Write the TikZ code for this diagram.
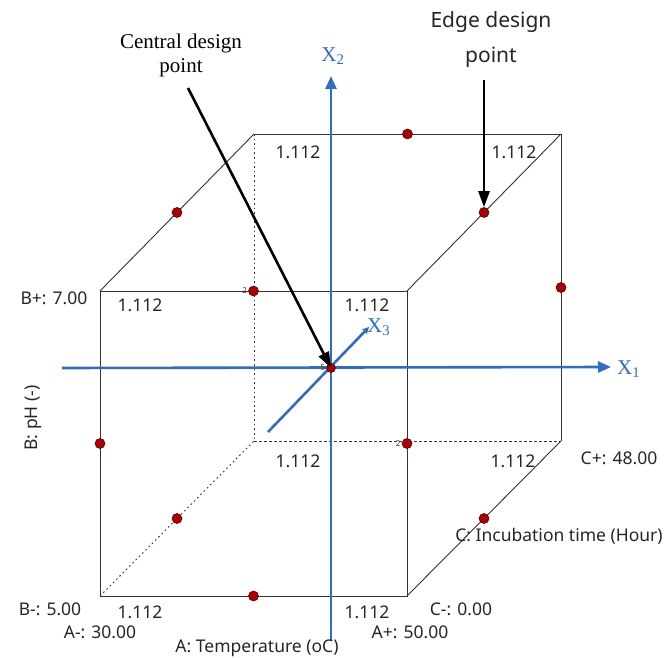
\documentclass[tikz,border=0pt]{standalone}
\usepackage{fontspec}
\setmainfont{Liberation Serif}
\newfontfamily\uisans{Noto Sans}
\usetikzlibrary{arrows.meta,calc}
\definecolor{axblue}{RGB}{48,108,198}
\definecolor{ptred}{RGB}{175,0,0}
\begin{document}
\begin{tikzpicture}[x=1pt,y=-1pt,
  cube/.style={draw=black!80, line width=0.9pt},
  hidA/.style={cube, dash pattern=on 1.6pt off 3pt},
  hidB/.style={cube, dash pattern=on 3pt off 2pt},
  pt/.style={circle, fill=ptred, draw=black!50!ptred, line width=0.6pt, inner sep=0pt, minimum size=10pt},
  lab/.style={font=\uisans\fontsize{17.5}{20}\selectfont, text=black!85, inner sep=0pt},
  tinylab/.style={font=\uisans\fontsize{8}{8}\selectfont, text=black!80, inner sep=0pt, anchor=east},
  axis/.style={draw=axblue, line width=2.6pt},
  axlab/.style={text=axblue, font=\fontsize{21}{21}\selectfont, inner sep=0pt},
  callout/.style={draw=black, line width=2.6pt, -{Triangle[length=16pt,width=11pt]}},
  note/.style={font=\fontsize{21}{24}\selectfont, align=center, inner sep=0pt},
  notesans/.style={font=\uisans\fontsize{21}{35}\selectfont, align=center, inner sep=0pt, text=black!85}]
\useasboundingbox (0,0) rectangle (670,658);
\fill[white] (0,0) rectangle (670,658);
% cube corners
\coordinate (FTL) at (100,291);
\coordinate (FTR) at (407,291);
\coordinate (FBL) at (100,596);
\coordinate (FBR) at (407,596);
\coordinate (BTL) at (254,134);
\coordinate (BTR) at (561,134);
\coordinate (BBL) at (254,441);
\coordinate (BBR) at (561,441);
% hidden edges
\draw[hidA] (BTL) -- (BBL);
\draw[hidA] (FBL) -- (BBL);
\draw[hidB] (BBL) -- (BBR);
% visible edges
\draw[cube] (FTL) -- (FTR) -- (FBR) -- (FBL) -- cycle;
\draw[cube] (BTL) -- (BTR) -- (BBR);
\draw[cube] (FTL) -- (BTL);
\draw[cube] (FTR) -- (BTR);
\draw[cube] (FBR) -- (BBR);
% corner labels
\node[lab] (v1) at (140,305) {1.112};
\node[lab] (v2) at (367,305) {1.112};
\node[lab] (v3) at (298,152) {1.112};
\node[lab] (v4) at (514,152) {1.112};
\node[lab] (v5) at (298,461) {1.112};
\node[lab] (v6) at (513,461) {1.112};
\node[lab] (v7) at (140,612) {1.112};
\node[lab] (v8) at (367,612) {1.112};
% axes
\coordinate (x1s) at (62,368);
\coordinate (x1e) at (611,367);
\coordinate (x2s) at (331,640);
\coordinate (x2e) at (331,76);
\coordinate (x3s) at (268,432);
\coordinate (x3e) at (369,327);
\draw[axis, -{Triangle[length=13pt,width=11pt]}] (x1s) -- (x1e);
\draw[axis, -{Triangle[length=13pt,width=11pt]}] (x2s) -- (x2e);
\draw[axis, -{Stealth[length=7pt,width=7pt]}] (x3s) -- (x3e);
\node[axlab, anchor=west] (X1) at (617,369) {X\textsubscript{1}};
\node[axlab] (X2) at (333,56) {X\textsubscript{2}};
\node[axlab, anchor=west] (X3) at (367,327) {X\textsubscript{3}};
% design points
\node[pt] (m1) at ($(FTL)!0.5!(FTR)$) {};
\node[pt] (m2) at ($(FBL)!0.5!(FBR)$) {};
\node[pt] (m3) at ($(FTL)!0.5!(FBL)$) {};
\node[pt] (m4) at ($(FTR)!0.5!(FBR)$) {};
\node[pt] (m5) at ($(BTL)!0.5!(BTR)$) {};
\node[pt] (m6) at ($(BTR)!0.5!(BBR)$) {};
\node[pt] (m7) at ($(FTL)!0.5!(BTL)$) {};
\node[pt] (m8) at ($(FTR)!0.5!(BTR)$) {};
\node[pt] (m9) at ($(FBL)!0.5!(BBL)$) {};
\node[pt] (m10) at ($(FBR)!0.5!(BBR)$) {};
\node[pt, minimum size=9pt] (ctr) at (331,368) {};
\node[tinylab] (n2a) at ($(m1.west)+(-1,0)$) {2};
\node[tinylab] (n2b) at ($(m4.west)+(-1,0)$) {2};
\node[tinylab] (n5) at ($(ctr.west)+(-1,0)$) {5};
% factor labels
\node[lab] (Bp) at (54,298) {B+: 7.00};
\node[lab] (Bm) at (50,609) {B-: 5.00};
\node[lab] (Am) at (100,632) {A-: 30.00};
\node[lab] (At) at (257,648) {A: Temperature (oC)};
\node[lab] (Ap) at (410,632) {A+: 50.00};
\node[lab] (Cm) at (461,609) {C-: 0.00};
\node[lab] (Ct) at (559,536) {C: Incubation time (Hour)};
\node[lab] (Cp) at (619,458) {C+: 48.00};
\node[lab, rotate=90] (Bt) at (33,418) {B: pH (-)};
% callouts
\node[note] (cdp) at (181,55) {Central design\\point};
\node[notesans] (edp) at (491,40) {Edge design\\point};
\coordinate (c1) at (188,88);
\coordinate (e1) at (484,80);
\draw[callout] (c1) -- (ctr.center);
\draw[callout] (e1) -- (m8.north);
\end{tikzpicture}
\end{document}
